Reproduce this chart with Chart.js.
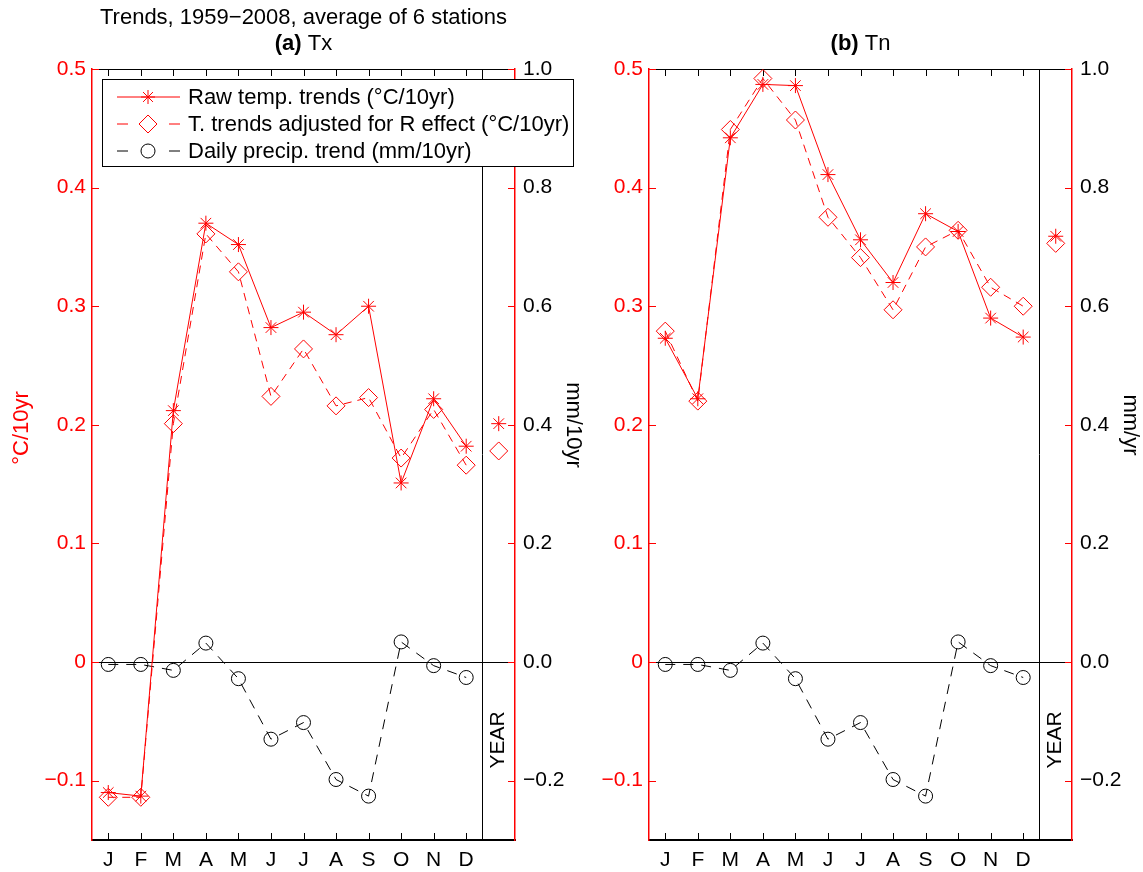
<!DOCTYPE html>
<html>
<head>
<meta charset="utf-8">
<script src="https://cdn.jsdelivr.net/npm/chart.js@4.4.0/dist/chart.umd.min.js"></script>
<style>
  html, body { margin: 0; padding: 0; background: #fff; }
  #wrap { position: relative; width: 1143px; height: 872px; }
  canvas { position: absolute; top: 0; }
</style>
</head>
<body>
<div id="wrap">
  <canvas id="chartA" width="590" height="872" style="left:0"></canvas>
  <canvas id="chartB" width="553" height="872" style="left:590px"></canvas>
</div>
<script>
// month labels and ticks
const months = ["J", "F", "M", "A", "M", "J", "J", "A", "S", "O", "N", "D"];
const tempTicks = [-0.1, 0, 0.1, 0.2, 0.3, 0.4, 0.5];
const precipTicks = [-0.2, 0, 0.2, 0.4, 0.6, 0.8, 1.0];

// (a) Tx, °C/10yr
const txRaw = [-0.110, -0.113, 0.212, 0.370, 0.352, 0.282, 0.295, 0.276, 0.300, 0.151, 0.222, 0.182];
const txAdj = [-0.114, -0.114, 0.201, 0.361, 0.329, 0.224, 0.264, 0.216, 0.223, 0.172, 0.213, 0.166];
const txYear = [0.201, 0.178]; // raw, adjusted

// (b) Tn, °C/10yr
const tnRaw = [0.273, 0.222, 0.442, 0.487, 0.486, 0.411, 0.356, 0.320, 0.378, 0.363, 0.290, 0.274];
const tnAdj = [0.279, 0.220, 0.449, 0.492, 0.457, 0.375, 0.341, 0.297, 0.350, 0.364, 0.316, 0.300];
const tnYear = [0.359, 0.353];

// daily precip trend, mm/10yr (right axis), same in both panels
const precip = [-0.004, -0.004, -0.014, 0.032, -0.028, -0.130, -0.102, -0.198, -0.226, 0.034, -0.006, -0.026];

const FONT = '"Liberation Sans", Arial, Helvetica, sans-serif';
Chart.defaults.font.family = FONT;
Chart.defaults.font.size = 21;
Chart.defaults.color = "#000";

const RED = "#ff0000";
const minus = (s) => s.replace("-", "\u2212");

function line(ctx, x1, y1, x2, y2) {
  ctx.beginPath();
  ctx.moveTo(x1, y1);
  ctx.lineTo(x2, y2);
  ctx.stroke();
}

const decor = {
  id: "decor",
  beforeDatasetsDraw(chart, args, o) {
    const { ctx, chartArea: a, scales } = chart;
    const x = scales.x, y = scales.y, y2 = scales.y2;
    ctx.save();
    ctx.lineWidth = 1;
    ctx.strokeStyle = "#000";
    // zero line
    const y0 = Math.round(y.getPixelForValue(0)) + 0.5;
    line(ctx, a.left, y0, a.right, y0);
    // separator before YEAR
    const xs = Math.round((x.getPixelForValue(11) + x.getPixelForValue(12)) / 2) + 0.5;
    line(ctx, xs, a.top, xs, a.bottom);
    // top border
    line(ctx, a.left, a.top + 0.5, a.right, a.top + 0.5);
    // inner month ticks
    for (let i = 0; i < months.length; i++) {
      const px = Math.round(x.getPixelForValue(i)) + 0.5;
      line(ctx, px, a.top, px, a.top + 7);
      line(ctx, px, a.bottom, px, a.bottom - 7);
    }
    // inner red ticks on both y axes
    ctx.strokeStyle = RED;
    y.ticks.forEach((t) => {
      const py = Math.round(y.getPixelForValue(t.value)) + 0.5;
      line(ctx, a.left, py, a.left + 7, py);
    });
    y2.ticks.forEach((t) => {
      const py = Math.round(y2.getPixelForValue(t.value)) + 0.5;
      line(ctx, a.right - 7, py, a.right, py);
    });
    ctx.restore();
  },
  afterDraw(chart, args, o) {
    const { ctx, chartArea: a, scales } = chart;
    const cx = (a.left + a.right) / 2;
    ctx.save();
    ctx.textBaseline = "middle";
    ctx.fillStyle = "#000";

    // titles
    ctx.textAlign = "center";
    if (o.mainTitle) {
      ctx.font = "22px " + FONT;
      ctx.fillText(o.mainTitle, cx, 18);
    }
    ctx.font = "bold 22px " + FONT;
    const wTag = ctx.measureText(o.tag + " ").width;
    ctx.font = "22px " + FONT;
    const wName = ctx.measureText(o.name).width;
    const x0 = cx - (wTag + wName) / 2;
    ctx.textAlign = "left";
    ctx.font = "bold 22px " + FONT;
    ctx.fillText(o.tag + " ", x0, 44);
    ctx.font = "22px " + FONT;
    ctx.fillText(o.name, x0 + wTag, 44);

    // YEAR label
    ctx.save();
    ctx.font = "21px " + FONT;
    ctx.translate(scales.x.getPixelForValue(12) - 1, a.bottom - 100);
    ctx.rotate(-Math.PI / 2);
    ctx.textAlign = "center";
    ctx.fillText("YEAR", 0, 0);
    ctx.restore();

    // axis titles, centred a little above the middle of the axes
    ctx.font = "22px " + FONT;
    if (o.leftTitle) {
      ctx.save();
      ctx.translate(22, 428);
      ctx.rotate(-Math.PI / 2);
      ctx.fillStyle = RED;
      ctx.textAlign = "center";
      ctx.fillText(o.leftTitle, 0, 0);
      ctx.restore();
    }
    ctx.save();
    ctx.translate(a.right + 58, 425);
    ctx.rotate(Math.PI / 2);
    ctx.textAlign = "center";
    ctx.fillText(o.rightTitle, 0, 0);
    ctx.restore();

    // legend
    if (o.legend) {
      const lx = a.left + 10, ly = 79, lw = 471, lh = 87;
      ctx.fillStyle = "#fff";
      ctx.fillRect(lx, ly, lw, lh);
      ctx.strokeStyle = "#000";
      ctx.lineWidth = 1;
      ctx.strokeRect(lx + 0.5, ly + 0.5, lw, lh);
      const items = [
        { text: "Raw temp. trends (\u00b0C/10yr)", color: RED, style: "star", r: 7, dash: [] },
        { text: "T. trends adjusted for R effect (\u00b0C/10yr)", color: RED, style: "rectRot", r: 9, dash: [11, 41, 11] },
        { text: "Daily precip. trend (mm/10yr)", color: "#000", style: "circle", r: 7, dash: [11, 41, 11] }
      ];
      items.forEach((it, i) => {
        const yy = ly + 18 + i * 27;
        ctx.strokeStyle = it.color;
        ctx.lineWidth = 1;
        ctx.setLineDash(it.dash);
        line(ctx, lx + 15, yy, lx + 78, yy);
        ctx.setLineDash([]);
        ctx.fillStyle = "rgba(0,0,0,0)";
        Chart.helpers.drawPoint(ctx, { pointStyle: it.style, radius: it.r, rotation: 0, borderWidth: 1 }, lx + 46, yy);
        ctx.fillStyle = "#000";
        ctx.textAlign = "left";
        ctx.font = "22px " + FONT;
        ctx.fillText(it.text, lx + 86, yy + 1);
      });
    }
    ctx.restore();
  }
};

function pad(arr) {
  return arr.concat([null]);
}
function yearOnly(v) {
  return months.map(() => null).concat([v]);
}

function makePanel(id, raw, adj, year, leftWidth, rightWidth, o) {
  const red = { borderColor: RED, pointBorderColor: RED, pointBackgroundColor: "rgba(0,0,0,0)", borderWidth: 1, pointBorderWidth: 1, clip: false, spanGaps: false };
  new Chart(document.getElementById(id), {
    type: "line",
    data: {
      labels: months.concat([""]),
      datasets: [
        Object.assign({ data: pad(raw), pointStyle: "star", pointRadius: 7.5, yAxisID: "y" }, red),
        Object.assign({ data: pad(adj), pointStyle: "rectRot", pointRadius: 9, borderDash: [8, 6], yAxisID: "y" }, red),
        { data: pad(precip), yAxisID: "y2", borderColor: "#000", pointBorderColor: "#000", pointBackgroundColor: "rgba(0,0,0,0)",
          borderWidth: 1, pointBorderWidth: 1, borderDash: [10, 8], pointStyle: "circle", pointRadius: 7, clip: false },
        Object.assign({ data: yearOnly(year[0]), pointStyle: "star", pointRadius: 7.5, showLine: false, yAxisID: "y" }, red),
        Object.assign({ data: yearOnly(year[1]), pointStyle: "rectRot", pointRadius: 9, showLine: false, yAxisID: "y" }, red)
      ]
    },
    options: {
      responsive: false,
      animation: false,
      events: [],
      layout: { padding: { top: 69, left: 0, right: 0, bottom: 0 } },
      plugins: { legend: { display: false }, tooltip: { enabled: false }, decor: o },
      scales: {
        x: {
          type: "category",
          offset: true,
          grid: { display: false, drawTicks: false },
          border: { color: "#000", width: 2 },
          ticks: { autoSkip: false, maxRotation: 0, padding: 8, color: "#000" },
          afterFit: (s) => { s.height = 32; }
        },
        y: {
          position: "left",
          min: -0.15,
          max: 0.5,
          grid: { display: false, drawTicks: false },
          border: { color: RED, width: 1.5 },
          ticks: { color: RED, padding: 6, callback: (v) => (v === 0 ? "0" : minus(v.toFixed(1))) },
          afterBuildTicks: (s) => { s.ticks = tempTicks.map((v) => ({ value: v })); },
          afterFit: (s) => { s.width = leftWidth; }
        },
        y2: {
          position: "right",
          min: -0.3,
          max: 1.0,
          grid: { display: false, drawTicks: false },
          border: { color: RED, width: 1.5 },
          ticks: { color: "#000", padding: 8, callback: (v) => minus(v.toFixed(1)) },
          afterBuildTicks: (s) => { s.ticks = precipTicks.map((v) => ({ value: v })); },
          afterFit: (s) => { s.width = rightWidth; }
        }
      }
    },
    plugins: [decor]
  });
}

makePanel("chartA", txRaw, txAdj, txYear, 92, 75, {
  mainTitle: "Trends, 1959\u22122008, average of 6 stations",
  tag: "(a)", name: "Tx",
  leftTitle: "\u00b0C/10yr", rightTitle: "mm/10yr", legend: true
});
makePanel("chartB", tnRaw, tnAdj, tnYear, 59, 71, {
  tag: "(b)", name: "Tn",
  rightTitle: "mm/yr", legend: false
});
</script>
</body>
</html>
